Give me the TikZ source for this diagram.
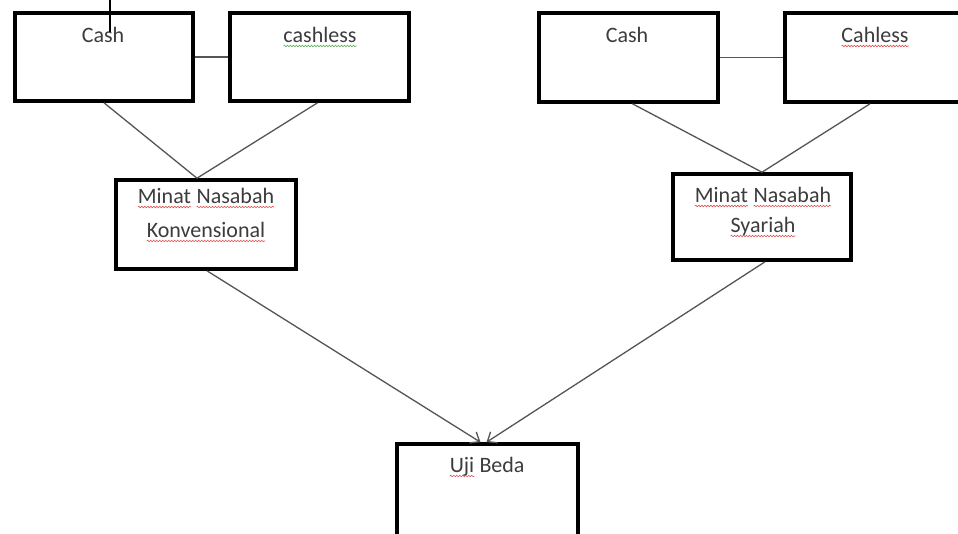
\documentclass[tikz,border=0pt]{standalone}
\usepackage{fontspec}
\setmainfont{Carlito}
\usetikzlibrary{arrows.meta,decorations.pathmorphing}
\definecolor{txtgray}{HTML}{3C3C3C}
\definecolor{linegray}{HTML}{555555}
\definecolor{spellred}{HTML}{E05050}
\definecolor{spellgreen}{HTML}{60B060}
\newcommand\wvy[2][spellred]{\tikz[baseline=(w.base)]{\node[inner sep=0pt,outer sep=0pt,draw=none,minimum width=0pt,minimum height=0pt] (w) {#2}; \draw[#1,line width=0.6pt,decorate,decoration={snake,amplitude=0.8pt,segment length=3pt}] ([yshift=-4pt]w.base west) -- ([yshift=-4pt]w.base east);}}
\begin{document}
\begin{tikzpicture}[x=1pt,y=-1pt,
  box/.style={draw=black,line width=3.6pt,fill=white,inner sep=0pt,rectangle},
  txt/.style={anchor=base,inner sep=0pt,text=txtgray,font=\fontsize{22}{32}\selectfont},
  conn/.style={draw=linegray,line width=1.3pt},
  arr/.style={draw=linegray,line width=1.3pt,-{Straight Barb[length=8pt,width=13pt,line width=1.3pt]}}]
\useasboundingbox[fill=white] (0,0) rectangle (958,533);
\begin{scope}
\clip (0,0) rectangle (958,533);
% top boxes
\node[box,minimum width=178pt,minimum height=88pt] (c1) at (104,57) {};
\node[box,minimum width=179pt,minimum height=88pt] (c2) at (319.5,57) {};
\node[box,minimum width=179pt,minimum height=89pt] (c3) at (628.5,57.5) {};
\node[box,minimum width=190pt,minimum height=89pt] (c4) at (880,57.5) {};
% middle boxes
\node[box,minimum width=180pt,minimum height=89pt] (k) at (206,224.5) {};
\node[box,minimum width=178pt,minimum height=86pt] (s) at (762,217) {};
% bottom box
\node[box,minimum width=181pt,minimum height=116pt] (u) at (487.5,502) {};
% connectors
\draw[conn] (c1.east) -- (c2.west);
\draw[conn] (c3.east) -- (c4.west);
\draw[conn] (c1.south) -- ([xshift=-9pt]k.north);
\draw[conn] ([xshift=-2pt]c2.south) -- ([xshift=-9pt]k.north);
\draw[conn] ([xshift=4pt]c3.south) -- (s.north);
\draw[conn] ([xshift=-10pt]c4.south) -- (s.north);
\draw[arr] ([xshift=1pt]k.south) -- ([xshift=-7pt]u.north);
\draw[arr] ([xshift=3pt]s.south) -- ([xshift=-1pt]u.north);
% texts
\node[txt] (t1) at (103,42) {Cash};
\node[txt] (t2) at (320,42) {\wvy[spellgreen]{cashless}};
\node[txt] (t3) at (627,42) {Cash};
\node[txt] (t4) at (875,42) {\wvy{Cahless}};
\node[txt] (t5a) at (206,203) {\wvy{Minat} \wvy{Nasabah}};
\node[txt] (t5b) at (206,237) {\wvy{Konvensional}};
\node[txt] (t6a) at (763,202) {\wvy{Minat} \wvy{Nasabah}};
\node[txt] (t6b) at (763,232) {\wvy{Syariah}};
\node[txt] (t7) at (487,472) {\wvy{Uji} Beda};
% cursor mark
\coordinate (m1) at (110,0);
\coordinate (m2) at (110,32);
\draw[line width=2pt,black] (m1) -- (m2);
\end{scope}
\end{tikzpicture}
\end{document}
